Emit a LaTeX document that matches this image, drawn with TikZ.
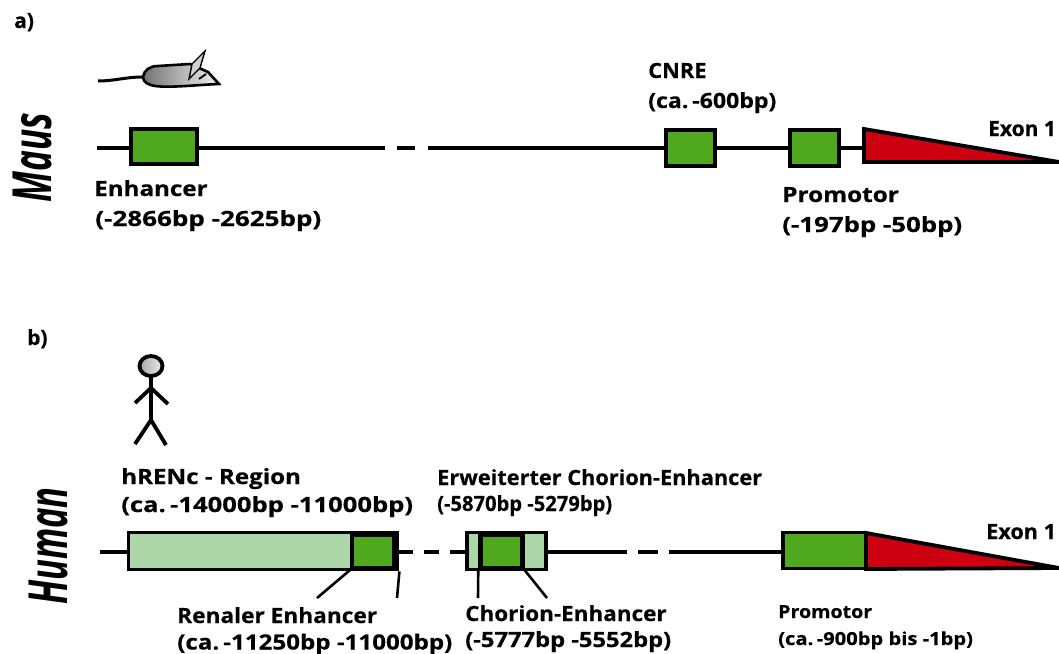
\documentclass[tikz,border=0pt]{standalone}
\usepackage{fontspec}
\setmainfont[BoldFeatures={FakeBold=0.4}]{Open Sans}
\usepackage{xcolor}
\usetikzlibrary{positioning}
\usetikzlibrary{calc}
\definecolor{enhgreen}{HTML}{4FA81E}
\definecolor{palegreen}{HTML}{ACD5A8}
\definecolor{exonred}{HTML}{CC0010}
\tikzset{
  genebox/.style={draw=black,line width=3.8pt,fill=enhgreen,inner sep=0pt},
  regionbox/.style={draw=black,line width=3.8pt,fill=palegreen,inner sep=0pt},
  dna/.style={line width=3.6pt},
  leader/.style={line width=2.6pt},
  stick/.style={line width=3.8pt},
  lbl/.style={anchor=base west,inner sep=0pt,font=\bfseries\fontsize{21}{24}\selectfont},
  lblsmall/.style={anchor=base west,inner sep=0pt,font=\bfseries\fontsize{18}{20}\selectfont},
  species/.style={inner sep=0pt,rotate=90,font=\bfseries\itshape\fontsize{54}{64}\selectfont}
}

\begin{document}
\begin{tikzpicture}[x=1pt,y=-1pt]
  \useasboundingbox (0,0) rectangle (1059,653);
  % panel letters and species
  \node[lbl] (panela) at (14,28) {a)};
  \node[lbl] (panelb) at (27,345) {b)};
  \node[species,xscale=0.65] (maus) at (32,157.5) {Maus};
  \node[species,xscale=0.64] (human) at (48,546) {Human};
  % mouse
  \draw[line width=3pt] (98,81) .. controls (115,81) and (125,77) .. (143,77);
  \draw[line width=2.6pt,left color=gray!90!black,right color=gray!10]
    (143,77) .. controls (144,70) and (150,66) .. (158,66) -- (190,64) -- (208,72) -- (219,84)
    .. controls (195,85) and (170,88) .. (155,86) .. controls (148,85) and (143,82) .. (143,77) -- cycle;
  \draw[line width=1.4pt,fill=gray!35] (189,79) -- (192,64) -- (205,51) -- (200,68) -- cycle;
  \draw[line width=1.8pt] (199,79) -- (206,74);
  % Maus gene
  \coordinate (ma) at (97,148);
  \coordinate (mb) at (385,148);
  \coordinate (mc) at (397,148);
  \coordinate (md) at (415,148);
  \coordinate (me) at (428,148);
  \node[genebox,minimum width=66pt,minimum height=35pt] (menh) at (164,146.5) {};
  \node[genebox,minimum width=49pt,minimum height=36pt] (mcnre) at (690.5,148) {};
  \node[genebox,minimum width=49pt,minimum height=36pt] (mprom) at (814.5,148) {};
  \draw[dna] (ma) -- (ma -| menh.west);
  \draw[dna] (mb -| menh.east) -- (mb);
  \draw[dna] (mc) -- (md);
  \draw[dna] (me) -- (mcnre);
  \draw[dna] (mcnre) -- (mprom);
  % exon 1
  \coordinate (mx) at (865,148);
  \draw[dna] (mprom) -- (mx);
  \draw[line width=3.8pt,fill=exonred,miter limit=20] (864,129) -- (1059,162) -- (864,162) -- cycle;
  \node[lbl] (mexon) at (988,136) {Exon 1};
  \node[lbl,xscale=1.15] (menhl) at (94,196) {Enhancer};
  \node[lbl,xscale=1.24] (menhr) at (95,226) {(-2866bp -2625bp)};
  \node[lbl,xscale=1.04] (mcnrel) at (648,78) {CNRE};
  \node[lbl,xscale=1.1] (mcnrer) at (648,108) {(ca.\,-600bp)};
  \node[lbl,xscale=1.16] (mproml) at (782,202) {Promotor};
  \node[lbl,xscale=1.23] (mpromr) at (782,232) {(-197bp -50bp)};
  % person
  \draw[stick,left color=gray!70,right color=gray!15] (151,366) ellipse (11.5pt and 10pt);
  \coordinate (neck) at (151,376);
  \coordinate (hip) at (151,420);
  \coordinate (shoulder) at (151,388);
  \draw[stick] (neck) -- (hip);
  \draw[stick] (135,403) -- (shoulder) -- (168,404);
  \draw[stick] (135,444) -- (hip) -- (166,445);
  % Human gene
  \coordinate (ha) at (100,552);
  \coordinate (hb) at (413,552);
  \coordinate (hc) at (424,552);
  \coordinate (hd) at (439,552);
  \coordinate (he) at (450,552);
  \coordinate (hf) at (627,552);
  \coordinate (hg) at (638,552);
  \coordinate (hh) at (658,552);
  \coordinate (hi) at (669,552);
  \node[regionbox,minimum width=269pt,minimum height=37pt] (hren) at (263,551) {};
  \node[genebox,minimum width=42pt,minimum height=33pt,line width=4.5pt] (hrenin) at (373,551.5) {};
  \draw[line width=3.8pt] (395.5,532) -- (395.5,570);
  \node[regionbox,minimum width=79pt,minimum height=37pt] (hcho) at (506.5,551) {};
  \node[genebox,minimum width=42pt,minimum height=33pt,line width=4.5pt] (hchoin) at (501.5,551.5) {};
  \draw[dna] (ha) -- (ha -| hren.west);
  \draw[dna] (hb -| hren.east) -- (hb);
  \draw[dna] (hc) -- (hd);
  \draw[dna] (he) -- (he -| hcho.west);
  \draw[dna] (hf -| hcho.east) -- (hf);
  \draw[dna] (hg) -- (hh);
  % promotor and exon 1
  \draw[line width=3.8pt,fill=exonred,miter limit=20] (866,533) -- (1059,568) -- (866,569) -- cycle;
  \node[genebox,minimum width=83pt,minimum height=36pt] (hprom) at (824.5,550.5) {};
  \draw[dna] (hi) -- (hi -| hprom.west);
  % leader lines
  \coordinate (rl) at (317,598);
  \coordinate (rr) at (397,598);
  \coordinate (cl) at (478,598);
  \coordinate (cr) at (547,598);
  \draw[leader] (hrenin.south west) -- (rl);
  \draw[leader] (hren.south east) -- (rr);
  \draw[leader] (hchoin.south west) -- (cl);
  \draw[leader] (hchoin.south east) -- (cr);
  % labels
  \node[lbl,xscale=1.03] (hexon) at (986,539) {Exon 1};
  \node[lbl,xscale=1.15] (hrenl) at (121,484) {hRENc - Region};
  \node[lbl,xscale=1.22] (hrenr) at (121,512) {(ca.\,-14000bp -11000bp)};
  \node[lbl,xscale=1.035] (hchol) at (437,485) {Erweiterter Chorion-Enhancer};
  \node[lbl,xscale=0.96] (hchor) at (437,511) {(-5870bp -5279bp)};
  \node[lbl,xscale=1.08] (rleng) at (177,623) {Renaler Enhancer};
  \node[lbl,xscale=1.15] (rlenr) at (177,649.5) {(ca.\,-11250bp -11000bp)};
  \node[lbl,xscale=1.07] (chenl) at (465,621) {Chorion-Enhancer};
  \node[lbl,xscale=1.13] (chenr) at (465,647) {(-5777bp -5552bp)};
  \node[lblsmall,xscale=1.09] (hproml) at (778,618) {Promotor};
  \node[lblsmall,xscale=1.12] (hpromr) at (778,645) {(ca.\,-900bp bis -1bp)};
\end{tikzpicture}
\end{document}
